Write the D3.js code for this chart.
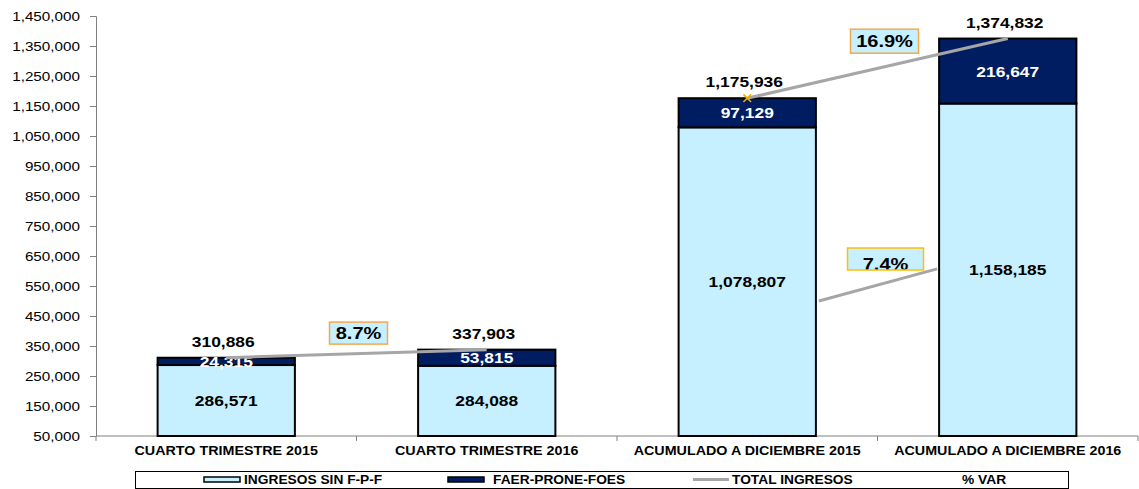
<!DOCTYPE html>
<html>
<head>
<meta charset="utf-8">
<script src="https://cdn.jsdelivr.net/npm/d3@7"></script>
<style>
  body { margin: 0; background: #fff; }
  svg { display: block; font-family: Arial, 'Liberation Sans', sans-serif; }
</style>
</head>
<body>
<svg width="1139" height="489"></svg>
<script>
const categories = ['CUARTO TRIMESTRE 2015', 'CUARTO TRIMESTRE 2016', 'ACUMULADO A DICIEMBRE 2015', 'ACUMULADO A DICIEMBRE 2016'];
const ingresos = [286571, 284088, 1078807, 1158185];
const faer = [24315, 53815, 97129, 216647];
const totales = [310886, 337903, 1175936, 1374832];
const pctVar = [8.7, 16.9, 7.4];
const yTicks = d3.range(50000, 1450001, 100000);
const legendLabels = ['INGRESOS SIN F-P-F', 'FAER-PRONE-FOES', 'TOTAL INGRESOS', '% VAR'];

const svg = d3.select('svg');
const lightBlue = '#c6efff';
const navy = '#001d62';
const grey = '#a6a6a6';

const margin = { top: 16, right: 1, bottom: 53, left: 96 };
const width = +svg.attr('width');
const height = +svg.attr('height');
const innerWidth = width - margin.left - margin.right;
const innerHeight = height - margin.top - margin.bottom;

// stretch text horizontally (the reference is wider than plain Arial)
const stretch = (sel, k) => sel.each(function () {
    const w = this.getComputedTextLength();
    d3.select(this).attr('textLength', w * k).attr('lengthAdjust', 'spacingAndGlyphs');
});

const x = d3.scaleBand().domain(categories).range([0, innerWidth]);
const y = d3.scaleLinear().domain([50000, 1450000]).range([innerHeight, 0]).clamp(true);
const barW = x.bandwidth() * 0.527;
const cx = i => x(categories[i]) + x.bandwidth() / 2;

const g = svg.append('g').attr('transform', `translate(${margin.left},${margin.top})`);

// y axis
const yAxisG = g.append('g').call(d3.axisLeft(y).tickValues(yTicks).tickFormat(d3.format(',')).tickSize(6).tickPadding(10));
yAxisG.select('.domain').attr('stroke', '#808080');
yAxisG.selectAll('.tick line').attr('stroke', '#808080');
yAxisG.selectAll('text').attr('font-size', 12.5).attr('fill', '#000')
    .attr('font-family', "Arial, 'Liberation Sans', sans-serif");
stretch(yAxisG.selectAll('text'), 1.22);

// x axis
const xAxisG = g.append('g').attr('transform', `translate(0,${innerHeight})`);
xAxisG.append('line').attr('x1', 0).attr('x2', innerWidth).attr('stroke', '#808080');
xAxisG.selectAll('.xtick').data(d3.range(categories.length + 1)).enter().append('line')
    .attr('x1', i => i * x.step()).attr('x2', i => i * x.step())
    .attr('y1', 0).attr('y2', 5).attr('stroke', '#808080');
const xLabels = xAxisG.selectAll('.xlab').data(categories).enter().append('text')
    .attr('x', d => x(d) + x.bandwidth() / 2).attr('y', 19)
    .attr('text-anchor', 'middle').attr('font-size', 13.5).attr('font-weight', 'bold')
    .text(d => d);
stretch(xLabels, 1.06);

// stacked bars
const bars = g.selectAll('.bar').data(categories).enter().append('g');
bars.append('rect')
    .attr('x', (d, i) => cx(i) - barW / 2).attr('width', barW)
    .attr('y', (d, i) => y(ingresos[i])).attr('height', (d, i) => y(0) - y(ingresos[i]))
    .attr('fill', lightBlue).attr('stroke', '#000').attr('stroke-width', 2);
bars.append('rect')
    .attr('x', (d, i) => cx(i) - barW / 2).attr('width', barW)
    .attr('y', (d, i) => y(ingresos[i] + faer[i])).attr('height', (d, i) => y(ingresos[i]) - y(ingresos[i] + faer[i]))
    .attr('fill', navy).attr('stroke', '#000').attr('stroke-width', 2);

// total line (two separate segments)
const line = d3.line().x(d => cx(d)).y(d => y(totales[d]));
[[0, 1], [2, 3]].forEach(seg => {
    g.append('path').attr('d', line(seg)).attr('fill', 'none')
        .attr('stroke', grey).attr('stroke-width', 3);
});
g.append('path').attr('d', d3.symbol(d3.symbolX, 40)())
    .attr('transform', `translate(${cx(2)},${y(totales[2])})`)
    .attr('fill', 'none').attr('stroke', '#f0b000').attr('stroke-width', 1.5);

// segment labels
const lowLabels = bars.append('text')
    .attr('x', (d, i) => cx(i)).attr('y', (d, i) => (y(ingresos[i]) + y(0)) / 2 + 5.5)
    .attr('text-anchor', 'middle').attr('font-size', 15.5).attr('font-weight', 'bold')
    .text((d, i) => d3.format(',')(ingresos[i]));
stretch(lowLabels, 1.12);
const topLabels = bars.append('text')
    .attr('x', (d, i) => cx(i)).attr('y', (d, i) => (y(ingresos[i]) + y(ingresos[i] + faer[i])) / 2 + 5.5)
    .attr('text-anchor', 'middle').attr('font-size', 15.5).attr('font-weight', 'bold').attr('fill', '#fff')
    .text((d, i) => d3.format(',')(faer[i]));
stretch(topLabels, 1.12);
const totLabels = bars.append('text')
    .attr('x', (d, i) => cx(i) - 3).attr('y', (d, i) => y(totales[i]) - 11)
    .attr('text-anchor', 'middle').attr('font-size', 14.5).attr('font-weight', 'bold')
    .text((d, i) => d3.format(',')(totales[i]));
stretch(totLabels, 1.2);

// % var annotations
const pctBoxes = [
    { v: pctVar[0], x: x.step() + 2, y: 393000, w: 58, h: 22, stroke: '#f5a94a', dy: 6 },
    { v: pctVar[1], x: 3 * x.step() + 7, y: 1366000, w: 68, h: 24, stroke: '#f5a94a', dy: 6 },
    { v: pctVar[2], x: 3 * x.step() + 8, y: 640000, w: 76, h: 22, stroke: '#ffc000', dy: 11 }
];
// connector for the 7.4% variation
g.append('line')
    .attr('x1', cx(2) + barW / 2 + 3).attr('y1', y(500000))
    .attr('x2', cx(3) - barW / 2 - 2).attr('y2', y(607000))
    .attr('stroke', grey).attr('stroke-width', 3);
pctBoxes.forEach(b => {
    const yc = y(b.y);
    g.append('rect').attr('x', b.x - b.w / 2).attr('y', yc - b.h / 2).attr('width', b.w).attr('height', b.h)
        .attr('fill', lightBlue);
    const t = g.append('text').attr('x', b.x).attr('y', yc + b.dy)
        .attr('text-anchor', 'middle').attr('font-size', 16).attr('font-weight', 'bold')
        .text(d3.format('.1f')(b.v) + '%');
    stretch(t, 1.25);
    g.append('rect').attr('x', b.x - b.w / 2).attr('y', yc - b.h / 2).attr('width', b.w).attr('height', b.h)
        .attr('fill', 'none').attr('stroke', b.stroke).attr('stroke-width', 1.5);
});

// legend
const legend = svg.append('g');
legend.append('rect').attr('x', 135.5).attr('y', 471.5).attr('width', 933).attr('height', 17)
    .attr('fill', '#fff').attr('stroke', '#000').attr('stroke-width', 1);
const legendX = [204, 448, 693, 922];
const legendTextX = [244, 493, 732, 962];
legendLabels.forEach((lab, i) => {
    if (i < 2) {
        legend.append('rect').attr('x', legendX[i]).attr('y', 477).attr('width', 36).attr('height', 5)
            .attr('fill', i === 0 ? lightBlue : navy).attr('stroke', '#000').attr('stroke-width', 1.5);
    } else if (i === 2) {
        legend.append('line').attr('x1', legendX[i]).attr('x2', legendX[i] + 36)
            .attr('y1', 479.5).attr('y2', 479.5).attr('stroke', grey).attr('stroke-width', 3);
    }
    const t = legend.append('text').attr('x', legendTextX[i]).attr('y', 484)
        .attr('font-size', 12.5).attr('font-weight', 'bold').text(lab);
    stretch(t, 1.1);
});
</script>
</body>
</html>
